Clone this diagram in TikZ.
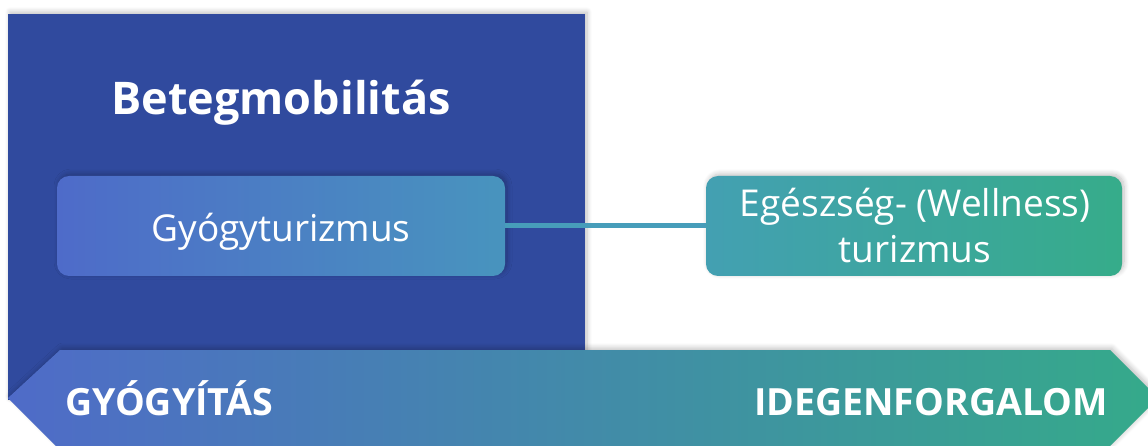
\documentclass[tikz,border=0pt]{standalone}
\usepackage{fontspec}
\setmainfont{Open Sans}
\usetikzlibrary{shadows.blur}

\definecolor{panelblue}{HTML}{304A9E}
\definecolor{bandleft}{HTML}{4F6BC8}
\definecolor{bandright}{HTML}{35AA8A}
\definecolor{boxAleft}{HTML}{4E6BC9}
\definecolor{boxAright}{HTML}{4894BE}
\definecolor{boxBleft}{HTML}{43A0B2}
\definecolor{boxBright}{HTML}{36AC8A}
\definecolor{linkcol}{HTML}{479DBA}

\tikzset{
  softshadow/.style={blur shadow={shadow xshift=2pt, shadow yshift=2pt, shadow blur steps=8, shadow blur radius=5pt, shadow opacity=25}},
  topicbox/.style={rounded corners=12pt, minimum width=448pt, minimum height=100pt,
    inner sep=0pt, softshadow},
  topictext/.style={text=white, inner sep=0pt, anchor=base, font=\fontsize{37}{46}\selectfont},
  headtext/.style={text=white, inner sep=0pt, font=\fontsize{45}{54}\selectfont\bfseries},
  bandtext/.style={text=white, inner sep=0pt, font=\fontsize{37.5}{44}\selectfont\bfseries},
}

\begin{document}
\begin{tikzpicture}[x=1pt, y=-1pt]
  \useasboundingbox (0,0) rectangle (1148,446);

  % dark panel behind the left half
  \fill[panelblue, softshadow] (8,14) rectangle (585,400);

  % double-pointed band along the bottom
  \shade[left color=bandleft, right color=bandright, softshadow]
    (60,350) -- (1110,350) -- (1158,398) -- (1110,446) -- (56,446) -- (8,398) -- cycle;

  % titles
  \node[headtext] (title) at (281,103) {Betegmobilitás};
  \node[bandtext, anchor=base west] (heal) at (65,415) {GYÓGYÍTÁS};
  \node[bandtext, anchor=base east] (tour) at (1108,415) {IDEGENFORGALOM};

  % topic boxes and their link
  \node[topicbox, left color=boxAleft, right color=boxAright] (gyogy) at (281,226) {};
  \node[topicbox, minimum width=416pt, left color=boxBleft, right color=boxBright] (well) at (914,226) {};
  \draw[linkcol, line width=5pt] (gyogy.east) -- (well.west);

  % box labels
  \node[topictext] (gyogytxt) at (281,242) {Gyógyturizmus};
  \node[topictext] (welltxt1) at (915,217) {Egészség- (Wellness)};
  \node[topictext] (welltxt2) at (915,263) {turizmus};
\end{tikzpicture}
\end{document}
